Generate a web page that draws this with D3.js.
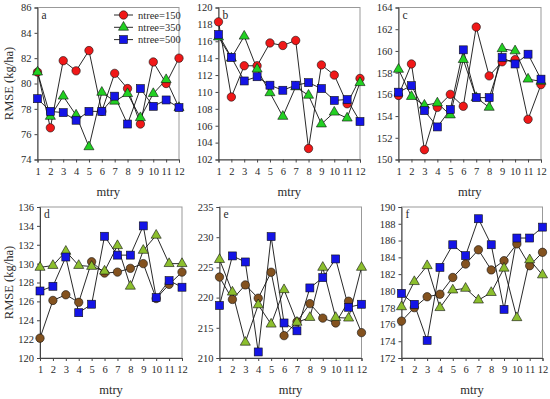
<html>
  <head>
    <meta charset="utf-8">
    <title>RMSE vs mtry</title>
    <script src="https://d3js.org/d3.v7.min.js" charset="utf-8"></script>
    <style>
      body { margin: 0; background: #fff; }
      text { font-family: "Liberation Serif", "Times New Roman", serif; fill: #2a2a2a; }
    </style>
  </head>
  <body>
    <script>
      // data
      var mtry = [1, 2, 3, 4, 5, 6, 7, 8, 9, 10, 11, 12];
      var seriesNames = ["ntree=150", "ntree=350", "ntree=500"];

      var a150 = [80.9, 76.5, 81.8, 81.0, 82.6, 77.8, 80.8, 79.6, 76.8, 81.7, 80.0, 82.0];
      var a350 = [80.9, 77.4, 79.0, 77.5, 75.0, 79.3, 78.6, 79.2, 77.3, 79.2, 80.3, 78.1];
      var a500 = [78.8, 77.8, 77.7, 77.1, 77.8, 77.8, 79.0, 76.8, 79.6, 78.2, 78.7, 78.1];

      var b150 = [118.3, 109.4, 113.1, 113.1, 115.8, 115.5, 116.1, 103.3, 113.2, 112.0, 108.6, 111.6];
      var b350 = [116.5, 114.0, 116.6, 112.7, 109.9, 107.1, 110.6, 109.6, 106.2, 107.6, 106.9, 111.1];
      var b500 = [116.8, 114.1, 111.3, 111.8, 110.8, 110.2, 110.8, 111.1, 110.4, 109.0, 109.1, 106.5];

      var c150 = [155.9, 158.8, 150.9, 154.8, 156.0, 154.9, 162.2, 157.7, 159.0, 159.2, 153.7, 156.9];
      var c350 = [158.3, 155.8, 155.0, 155.2, 154.1, 159.2, 155.7, 154.8, 160.2, 160.0, 157.4, 157.2];
      var c500 = [156.2, 156.8, 154.5, 153.0, 154.6, 160.1, 155.7, 155.7, 159.4, 158.8, 159.7, 157.4];

      var d150 = [122.1, 126.1, 126.7, 125.9, 130.2, 129.0, 129.1, 129.5, 130.0, 126.3, 127.8, 129.1];
      var d350 = [129.6, 129.8, 131.3, 129.8, 129.7, 129.2, 131.9, 127.6, 131.4, 133.0, 130.0, 130.0];
      var d500 = [127.1, 127.6, 130.7, 124.8, 125.7, 132.9, 130.9, 130.9, 134.0, 126.4, 128.2, 127.5];

      var e150 = [223.4, 219.7, 222.1, 219.9, 224.2, 213.7, 216.0, 219.0, 216.6, 215.8, 219.4, 214.2];
      var e350 = [226.3, 220.9, 212.6, 218.8, 215.6, 221.3, 215.9, 216.7, 225.0, 216.7, 216.6, 225.0];
      var e500 = [218.7, 226.9, 225.9, 211.0, 230.1, 215.8, 214.5, 221.6, 223.3, 226.4, 218.4, 218.9];

      var f150 = [176.4, 178.0, 179.3, 179.6, 181.6, 183.2, 184.9, 182.5, 183.6, 185.6, 183.0, 184.6];
      var f350 = [178.1, 181.1, 183.0, 178.0, 180.1, 180.3, 178.9, 179.8, 182.7, 176.8, 183.7, 181.9];
      var f500 = [179.7, 178.4, 174.1, 182.8, 185.5, 184.2, 188.6, 185.5, 177.8, 186.3, 186.3, 187.6];

      var width = 550,
          height = 399;

      var svg = d3.select("body").append("svg")
          .attr("width", width)
          .attr("height", height);

      // one entry per panel
      var panels = [
        {id: "a", x0: 37.5, x1: 179, y0: 7.5, y1: 159.5, dom: [74, 86], step: 2, s: [a150, a350, a500], top: true},
        {id: "b", x0: 218.5, x1: 360, y0: 7.5, y1: 159.5, dom: [102, 120], step: 2, s: [b150, b350, b500], top: true},
        {id: "c", x0: 398.5, x1: 541, y0: 7.5, y1: 159.5, dom: [150, 164], step: 2, s: [c150, c350, c500], top: true},
        {id: "d", x0: 40, x1: 182, y0: 207, y1: 358, dom: [120, 136], step: 2, s: [d150, d350, d500], top: false},
        {id: "e", x0: 219.5, x1: 361.5, y0: 207, y1: 358, dom: [210, 235], step: 5, s: [e150, e350, e500], top: false},
        {id: "f", x0: 401.5, x1: 542.5, y0: 207, y1: 358, dom: [172, 190], step: 2, s: [f150, f350, f500], top: false}
      ];

      var topColors = ["#f01818", "#22d022", "#1414e6"];
      var bottomColors = ["#83521f", "#8cbf2e", "#1414e6"];

      var drawMarker = function(sel, kind, color) {
        if (kind === 0) {
          sel.append("circle").attr("r", 4.2);
        } else if (kind === 1) {
          sel.append("path").attr("d", d3.symbol().type(d3.symbolTriangle).size(44)());
        } else {
          sel.append("rect").attr("x", -4).attr("y", -4).attr("width", 8).attr("height", 8);
        }
        sel.selectAll("circle,path,rect")
          .attr("fill", color)
          .attr("stroke", "#111")
          .attr("stroke-width", 0.6);
      };

      panels.forEach(function(p) {
        var x = d3.scaleLinear().domain([1, 12]).range([p.x0, p.x1]);
        var y = d3.scaleLinear().domain(p.dom).range([p.y1, p.y0]);
        var colors = p.top ? topColors : bottomColors;
        var g = svg.append("g");

        // frame
        g.append("rect")
          .attr("x", p.x0).attr("y", p.y0)
          .attr("width", p.x1 - p.x0).attr("height", p.y1 - p.y0)
          .attr("fill", "none").attr("stroke", "#999").attr("stroke-width", 1);

        var yAxis = d3.axisLeft(y)
          .tickValues(d3.range(p.dom[0], p.dom[1] + 0.001, p.step))
          .tickSize(3).tickPadding(3);
        var xAxis = d3.axisBottom(x)
          .tickValues(mtry)
          .tickSize(3).tickPadding(5);

        g.append("g").attr("transform", "translate(" + p.x0 + ",0)").call(yAxis);
        g.append("g").attr("transform", "translate(0," + p.y1 + ")").call(xAxis);
        g.selectAll(".domain").attr("stroke", "#444");
        g.selectAll(".tick line").attr("stroke", "#444");
        g.selectAll(".tick text")
          .attr("font-size", 10.5);

        // panel letter
        g.append("text")
          .attr("x", p.x0 + 4).attr("y", p.y0 + 11)
          .attr("font-size", 11.5)
          .text(p.id);

        // axis title
        g.append("text")
          .attr("x", (p.x0 + p.x1) / 2)
          .attr("y", p.y1 + 36)
          .attr("text-anchor", "middle")
          .attr("font-size", 12.5)
          .text("mtry");

        var line = d3.line()
          .x(function(d, i) { return x(mtry[i]); })
          .y(function(d) { return y(d); });

        p.s.forEach(function(vals) {
          g.append("path")
            .attr("d", line(vals))
            .attr("fill", "none")
            .attr("stroke", "#111")
            .attr("stroke-width", 0.9);
        });

        p.s.forEach(function(vals, k) {
          vals.forEach(function(v, i) {
            var m = g.append("g")
              .attr("transform", "translate(" + x(mtry[i]) + "," + y(v) + ")");
            drawMarker(m, k, colors[k]);
          });
        });
      });

      // y axis titles
      [83.5, 282.5].forEach(function(cy) {
        svg.append("text")
          .attr("transform", "translate(13," + cy + ") rotate(-90)")
          .attr("text-anchor", "middle")
          .attr("font-size", 12.5)
          .text("RMSE (kg/ha)");
      });

      // legend in panel a
      var legend = svg.append("g");
      seriesNames.forEach(function(name, k) {
        var ly = 15 + k * 12.3;
        legend.append("line")
          .attr("x1", 114).attr("x2", 133)
          .attr("y1", ly).attr("y2", ly)
          .attr("stroke", "#111").attr("stroke-width", 0.9);
        var m = legend.append("g").attr("transform", "translate(123.5," + ly + ")");
        drawMarker(m, k, topColors[k]);
        legend.append("text")
          .attr("x", 138).attr("y", ly + 3.5)
          .attr("font-size", 10.5)
          .text(name);
      });
    </script>
  </body>
</html>
